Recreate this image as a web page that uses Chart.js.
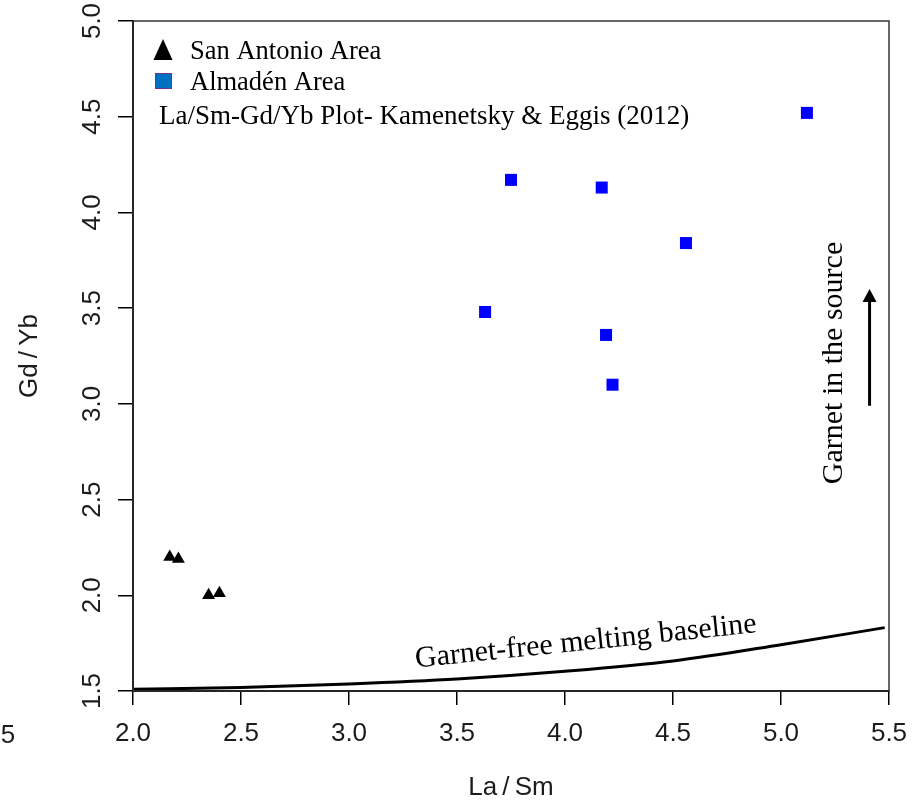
<!DOCTYPE html>
<html lang="en">
<head>
<meta charset="UTF-8">
<title>La/Sm - Gd/Yb Plot</title>
<script src="https://cdn.jsdelivr.net/npm/chart.js"></script>
<style>
    html, body { margin: 0; padding: 0; background: #ffffff; }
    #wrap { width: 922px; height: 803px; position: relative; }
</style>
</head>
<body>
<div id="wrap"><canvas id="chart"></canvas></div>
<script>
    // values
    const sanAntonioLaSm = [2.17, 2.21, 2.35, 2.40];
    const sanAntonioGdYb = [2.20, 2.19, 2.00, 2.01];
    const almadenLaSm = [5.12, 3.75, 4.17, 4.56, 3.63, 4.19, 4.22];
    const almadenGdYb = [4.52, 4.17, 4.13, 3.84, 3.48, 3.36, 3.10];
    const baselineLaSm = [2.0, 2.5, 3.0, 3.5, 4.0, 4.5, 5.0, 5.48];
    const baselineGdYb = [1.509, 1.518, 1.537, 1.563, 1.603, 1.657, 1.742, 1.831];
    const arrowLaSm = [5.41, 5.41];
    const arrowGdYb = [2.99, 3.60];
    const xTickValues = [2.0, 2.5, 3.0, 3.5, 4.0, 4.5, 5.0, 5.5];
    const yTickValues = [1.5, 2.0, 2.5, 3.0, 3.5, 4.0, 4.5, 5.0];

    const SANS = '"Liberation Sans Narrow", "Liberation Sans", Arial, sans-serif';
    const SERIF = '"Liberation Serif", "Times New Roman", serif';
    const INK = '#1c1c1c';

    const toPoints = (xs, ys) => xs.map((x, i) => ({ x: x, y: ys[i] }));

    const extras = {
        id: 'extras',
        afterDraw(chart) {
            const ctx = chart.ctx;
            const a = chart.chartArea;
            const xs = chart.scales.x, ys = chart.scales.y;
            ctx.save();

            // box round the plot
            ctx.strokeStyle = '#333';
            ctx.lineWidth = 1.5;
            ctx.strokeRect(a.left, a.top, a.right - a.left, a.bottom - a.top);

            // y tick labels, rotated like R
            ctx.fillStyle = INK;
            ctx.font = '26px ' + SANS;
            ctx.textAlign = 'center';
            ctx.textBaseline = 'alphabetic';
            ys.ticks.forEach(t => {
                ctx.save();
                ctx.translate(100, ys.getPixelForValue(t.value));
                ctx.rotate(-Math.PI / 2);
                ctx.fillText(t.value.toFixed(1), 0, 0);
                ctx.restore();
            });
            // cut-off label at the left edge
            ctx.fillText('5', 8, 743);

            // legend
            ctx.fillStyle = '#000';
            ctx.beginPath();
            ctx.moveTo(163, 39);
            ctx.lineTo(172.5, 60);
            ctx.lineTo(153.5, 60);
            ctx.closePath();
            ctx.fill();
            ctx.fillStyle = '#0070c0';
            ctx.fillRect(155, 73, 17, 16);
            ctx.strokeStyle = '#7030a0';
            ctx.lineWidth = 1;
            ctx.strokeRect(155.5, 73.5, 16, 15);

            ctx.fillStyle = '#000';
            ctx.font = '26.5px ' + SERIF;
            ctx.textAlign = 'left';
            ctx.fillText('San Antonio Area', 190, 59);
            ctx.fillText('Almadén Area', 190, 90);
            ctx.font = '27px ' + SERIF;
            ctx.fillText('La/Sm-Gd/Yb Plot- Kamenetsky & Eggis (2012)', 159, 124);

            // baseline label
            ctx.font = '30px ' + SERIF;
            ctx.textAlign = 'center';
            ctx.save();
            ctx.translate(xs.getPixelForValue(4.10), ys.getPixelForValue(1.715));
            ctx.rotate(-5.9 * Math.PI / 180);
            ctx.fillText('Garnet-free melting baseline', 0, 0);
            ctx.restore();

            // arrow and its label
            const ax = xs.getPixelForValue(arrowLaSm[0]);
            const y0 = ys.getPixelForValue(arrowGdYb[0]);
            const y1 = ys.getPixelForValue(arrowGdYb[1]);
            ctx.strokeStyle = '#000';
            ctx.lineWidth = 3;
            ctx.beginPath();
            ctx.moveTo(ax, y0);
            ctx.lineTo(ax, y1 + 10);
            ctx.stroke();
            ctx.beginPath();
            ctx.moveTo(ax, y1);
            ctx.lineTo(ax + 7, y1 + 13);
            ctx.lineTo(ax - 7, y1 + 13);
            ctx.closePath();
            ctx.fill();

            ctx.save();
            ctx.translate(842, 363);
            ctx.rotate(-Math.PI / 2);
            ctx.fillText('Garnet in the source', 0, 0);
            ctx.restore();

            ctx.restore();
        }
    };

    new Chart(document.getElementById('chart'), {
        type: 'scatter',
        data: {
            datasets: [
                {
                    label: 'Garnet-free melting baseline',
                    type: 'line',
                    data: toPoints(baselineLaSm, baselineGdYb),
                    borderColor: '#000',
                    borderWidth: 3,
                    pointRadius: 0,
                    cubicInterpolationMode: 'monotone',
                    fill: false
                },
                {
                    label: 'San Antonio Area',
                    data: toPoints(sanAntonioLaSm, sanAntonioGdYb),
                    pointStyle: 'triangle',
                    pointRadius: 7.5,
                    backgroundColor: '#000',
                    borderWidth: 0
                },
                {
                    label: 'Almadén Area',
                    data: toPoints(almadenLaSm, almadenGdYb),
                    pointStyle: 'rect',
                    pointRadius: 8.5,
                    backgroundColor: '#0000ff',
                    borderWidth: 0
                }
            ]
        },
        options: {
            responsive: true,
            maintainAspectRatio: false,
            animation: false,
            layout: { padding: { top: 21, right: 33, left: 0, bottom: 0 } },
            plugins: {
                legend: { display: false },
                tooltip: { enabled: false }
            },
            scales: {
                x: {
                    type: 'linear',
                    min: 2.0,
                    max: 5.5,
                    afterFit: s => { s.height = 112; },
                    afterBuildTicks: s => { s.ticks = xTickValues.map(v => ({ value: v })); },
                    border: { display: true, color: '#000', width: 2 },
                    grid: { drawOnChartArea: false, drawTicks: true, tickLength: 14, color: '#000', lineWidth: 1.5 },
                    ticks: {
                        color: INK,
                        font: { family: SANS, size: 26 },
                        padding: 13,
                        maxRotation: 0,
                        callback: v => v.toFixed(1)
                    },
                    title: {
                        display: true,
                        text: 'La\u2009/\u2009Sm',
                        color: INK,
                        font: { family: SANS, size: 26 },
                        padding: { top: 0, bottom: 0 }
                    }
                },
                y: {
                    type: 'linear',
                    min: 1.5,
                    max: 5.0,
                    afterFit: s => { s.width = 133; },
                    afterBuildTicks: s => { s.ticks = yTickValues.map(v => ({ value: v })); },
                    border: { display: true, color: '#000', width: 2 },
                    grid: { drawOnChartArea: false, drawTicks: true, tickLength: 15, color: '#000', lineWidth: 1.5 },
                    ticks: { display: false },
                    title: {
                        display: true,
                        text: 'Gd\u2009/\u2009Yb',
                        color: INK,
                        font: { family: SANS, size: 26 },
                        padding: { top: 14, bottom: 0 }
                    }
                }
            }
        },
        plugins: [extras]
    });
</script>
</body>
</html>
